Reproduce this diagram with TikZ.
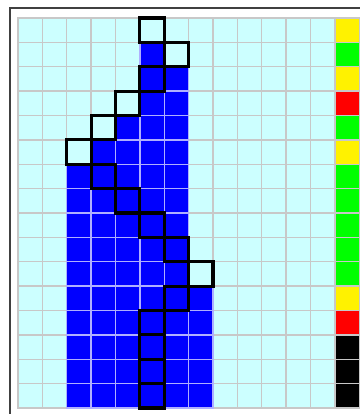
\documentclass[tikz,border=0pt]{standalone}
\definecolor{gridcyan}{RGB}{204,255,255}
\definecolor{gridline}{RGB}{200,200,200}
\definecolor{blueline}{RGB}{175,175,255}

\begin{document}
\begin{tikzpicture}[
  x=0.5cm, y=-0.5cm,
  cell/.style     = {fill=#1, draw=gridline, line width=0.8pt},
  bluecell/.style = {fill=blue, draw=blueline, line width=0.8pt},
  seamcell/.style = {draw=black, line width=1.8pt},
]
\useasboundingbox (-0.738,-0.738) rectangle (14.031,16.246);
\draw[black!75, line width=0.7pt] (-0.33,-0.41) rectangle (15,17);

% background grid
\foreach \r in {0,...,15}
  \foreach \c in {0,...,12}
    \draw[cell=gridcyan] (\c,\r) rectangle ++(1,1);

% blue region: row / first column / last column
\foreach \r/\a/\b in {1/5/5, 2/5/6, 3/5/6, 4/4/6, 5/3/6, 6/2/6, 7/2/6, 8/2/6,
                      9/2/6, 10/2/6, 11/2/7, 12/2/7, 13/2/7, 14/2/7, 15/2/7}
  \foreach \c in {\a,...,\b}
    \draw[bluecell] (\c,\r) rectangle ++(1,1);

% colour column on the right
\foreach \r/\col in {0/yellow, 1/green, 2/yellow, 3/red, 4/green, 5/yellow,
                     6/green, 7/green, 8/green, 9/green, 10/green, 11/yellow,
                     12/red, 13/black, 14/black, 15/black}
  \draw[cell=\col] (13,\r) rectangle ++(1,1);

% seam, one cell per row
\foreach \r/\c in {0/5, 1/6, 2/5, 3/4, 4/3, 5/2, 6/3, 7/4, 8/5, 9/6, 10/7,
                   11/6, 12/5, 13/5, 14/5, 15/5}
  \draw[seamcell] (\c,\r) rectangle ++(1,1);
\end{tikzpicture}
\end{document}
